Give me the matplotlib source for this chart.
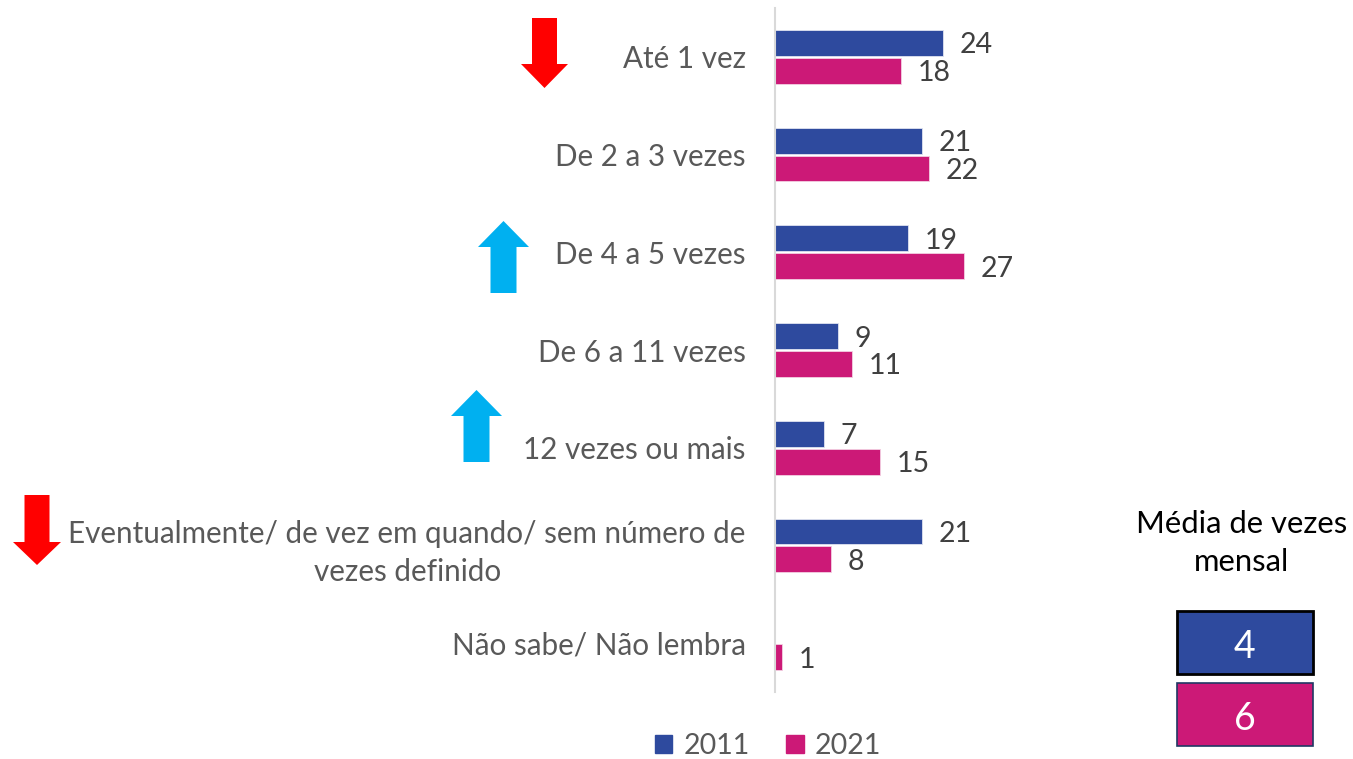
import matplotlib
matplotlib.use("Agg")
import matplotlib.pyplot as plt
from matplotlib.patches import Polygon, Rectangle, Patch
import numpy as np

plt.rcParams['font.family'] = ['Lato', 'DejaVu Sans']

categories = ["Até 1 vez", "De 2 a 3 vezes", "De 4 a 5 vezes", "De 6 a 11 vezes",
              "12 vezes ou mais",
              "Eventualmente/ de vez em quando/ sem número de\nvezes definido",
              "Não sabe/ Não lembra"]
vals_2011 = [24, 21, 19, 9, 7, 21, 0]
vals_2021 = [18, 22, 27, 11, 15, 8, 1]
series_names = ["2011", "2021"]
media_2011 = 4
media_2021 = 6

C2011 = "#2E4A9E"
C2021 = "#CC1977"
GRAY = "#595959"
NUM = "#404040"

W, H = 1353, 759
fig = plt.figure(figsize=(W / 100, H / 100), dpi=100)

ax_l, ax_r, ax_t, ax_b = 775, 1100, 8, 692
ax = fig.add_axes([ax_l / W, 1 - ax_b / H, (ax_r - ax_l) / W, (ax_b - ax_t) / H])
ax.set_xlim(0, (ax_r - ax_l) / 7.0)
y = np.arange(len(categories))
ax.set_ylim(len(categories) - 0.5, -0.5)

bh = 0.265
off = 0.143
b1 = ax.barh(y - off, vals_2011, height=bh, color=C2011, edgecolor="#dfe3f0", linewidth=0.6, label=series_names[0])
b2 = ax.barh(y + off, vals_2021, height=bh, color=C2021, edgecolor="#f3d0e2", linewidth=0.6, label=series_names[1])

for bars, vals in ((b1, vals_2011), (b2, vals_2021)):
    anns = ax.bar_label(bars, labels=[str(v) if v > 0 else "" for v in vals], padding=12,
                        fontsize=20.5, color=NUM)
    for a in anns:
        a.set_va("center_baseline")

ax.set_yticks(y)
ax.set_yticklabels(categories, fontsize=21.3, color=GRAY, linespacing=1.45)
for lab in ax.get_yticklabels():
    lab.set_multialignment("center")
ax.tick_params(axis="y", length=0, pad=21)
ax.set_xticks([])
for s in ["top", "right", "bottom"]:
    ax.spines[s].set_visible(False)
ax.spines["left"].set_color("#D9D9D9")
ax.spines["left"].set_linewidth(1.5)

# legend
handles = [Patch(color=C2011), Patch(color=C2021)]
fig.legend(handles, series_names, loc="center", bbox_to_anchor=(768 / W, 1 - 746 / H),
           ncol=2, frameon=False, fontsize=20.5, handlelength=0.6, handleheight=0.6,
           handletextpad=0.4, columnspacing=1.3, labelcolor=GRAY,
           borderpad=0.1, borderaxespad=0)

# arrows (pixel coordinates, y from top)
def arrow(cx, top, bottom, head_w, shaft_w, head_len, up, color):
    if up:
        tip, base, end = top, top + head_len, bottom
    else:
        tip, base, end = bottom, bottom - head_len, top
    pts = [(cx, tip), (cx + head_w / 2, base), (cx + shaft_w / 2, base),
           (cx + shaft_w / 2, end), (cx - shaft_w / 2, end), (cx - shaft_w / 2, base),
           (cx - head_w / 2, base)]
    pts = [(px / W, 1 - py / H) for px, py in pts]
    fig.patches.append(Polygon(pts, closed=True, transform=fig.transFigure,
                               facecolor=color, edgecolor="none"))

RED = "#FF0000"
BLUE = "#00B0F0"
arrow(544.5, 18, 88, 47, 25, 24, False, RED)
arrow(503.5, 221, 293, 51, 26, 26, True, BLUE)
arrow(476.5, 390, 462, 51, 26, 26, True, BLUE)
arrow(37, 495, 565, 48, 25, 23, False, RED)

# right panel
fig.text(1242 / W, 1 - 543 / H, "Média de vezes\nmensal", ha="center", va="center",
         fontsize=22.3, color="black", linespacing=1.4)
bx, bw = 1177, 136
fig.patches.append(Rectangle((bx / W, 1 - 674 / H), bw / W, 63 / H, transform=fig.transFigure,
                             facecolor=C2011, edgecolor="black", linewidth=2))
fig.patches.append(Rectangle((bx / W, 1 - 746 / H), bw / W, 63 / H, transform=fig.transFigure,
                             facecolor=C2021, edgecolor="#203864", linewidth=1.2))
fig.text((bx + bw / 2) / W, 1 - 643 / H, str(media_2011), ha="center", va="center_baseline",
         fontsize=27, color="white")
fig.text((bx + bw / 2) / W, 1 - 715 / H, str(media_2021), ha="center", va="center_baseline",
         fontsize=27, color="white")

fig.savefig("out.png", dpi=100)
